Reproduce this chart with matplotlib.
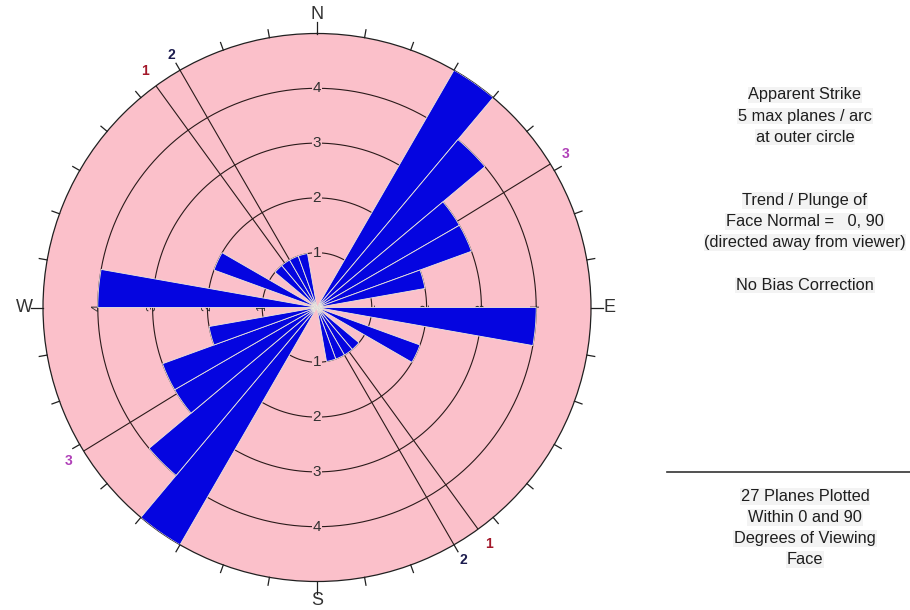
import numpy as np
import matplotlib
matplotlib.use("Agg")
import matplotlib.pyplot as plt
from matplotlib.lines import Line2D

plt.rcParams['font.family'] = ['Liberation Sans', 'DejaVu Sans']

# Apparent-strike rose: 10 degree bins over 0-180 (plotted bidirectionally)
bin_start_deg = [0, 10, 20, 30, 40, 50, 60, 70, 80, 90, 100, 110, 120, 130, 140, 150, 160, 170]
plane_counts = [0, 0, 0, 5, 4, 3, 3, 2, 0, 4, 0, 2, 0, 1, 1, 1, 1, 0]
bin_width_deg = 10
max_planes = 5

# Joint set traces drawn across the net
set_labels = ["1", "2", "3"]
set_trend_deg = [324, 330, 58.4]
set_colors = ["#a3182a", "#1c1c4e", "#b040b8"]

ring_values = [1, 2, 3, 4]
cardinal_labels = ["N", "E", "S", "W"]
cardinal_deg = [0, 90, 180, 270]

info_lines_top = ["Apparent Strike", "5 max planes / arc", "at outer circle"]
info_lines_mid = ["Trend / Plunge of", "Face Normal =   0, 90", "(directed away from viewer)"]
info_line_bias = "No Bias Correction"
info_lines_bottom = ["27 Planes Plotted", "Within 0 and 90", "Degrees of Viewing", "Face"]

W, H = 910, 610
fig = plt.figure(figsize=(W / 100, H / 100), dpi=100)
fig.patch.set_facecolor("white")

cx, cy, R = 317, 307.5, 274
ax = fig.add_axes([(cx - R) / W, (H - cy - R) / H, 2 * R / W, 2 * R / H], projection="polar")
ax.set_theta_zero_location("N")
ax.set_theta_direction(-1)
ax.set_ylim(0, max_planes)
ax.set_xticks([])
ax.set_yticks([])
ax.grid(False)
ax.set_facecolor("#fbc0ca")
ax.spines["polar"].set_color("#202020")
ax.spines["polar"].set_linewidth(0.9)

line_col = "#2a1a1a"
full = np.linspace(0, 2 * np.pi, 721)
for r in ring_values:
    ax.plot(full, np.full_like(full, r), color=line_col, lw=0.8, zorder=1)

# set traces (straight lines through the centre)
for lab, t, c in zip(set_labels, set_trend_deg, set_colors):
    for a in (t, t + 180):
        th = np.deg2rad(a)
        ax.plot([th, th], [0, max_planes], color=line_col, lw=0.8, zorder=1)
    th = np.deg2rad(t)
    ax.text(th, max_planes * 292 / R, lab, color=c, fontsize=10, fontweight="bold",
            ha="center", va="center", clip_on=False)
    ax.text(th + np.pi, max_planes * 292 / R, lab, color=c, fontsize=10, fontweight="bold",
            ha="center", va="center", clip_on=False)

# ring labels
for r in ring_values:
    for a in (0, 180):
        ax.text(np.deg2rad(a), r, str(r), fontsize=11, color="#303030", ha="center", va="center",
                zorder=2, bbox=dict(facecolor="#fbc0ca", edgecolor="none", pad=0.3))
    for a in (90, 270):
        ax.text(np.deg2rad(a), r, str(r), fontsize=9, color="#303030", ha="center", va="center",
                rotation=90, zorder=2)

# rose petals
starts = np.deg2rad(np.array(bin_start_deg, dtype=float))
counts = np.array(plane_counts, dtype=float)
for offset in (0.0, np.pi):
    ax.bar(starts + offset, counts, width=np.deg2rad(bin_width_deg), align="edge",
           color="#0505e0", edgecolor="#eeeadc", linewidth=0.6, zorder=3)

# outer tick marks every 10 degrees
unit = R / max_planes
for a in range(0, 360, 10):
    L = 12 if a in cardinal_deg else 8
    th = np.deg2rad(a)
    ax.plot([th, th], [max_planes, max_planes + L / unit], color="#202020", lw=0.9,
            clip_on=False, zorder=4)

for lab, a in zip(cardinal_labels, cardinal_deg):
    ax.text(np.deg2rad(a), max_planes * 293 / R, lab, fontsize=13, color="#333333",
            ha="center", va="center", clip_on=False)

# information panel
tx = 805 / W
def put(lines, y0, step=21):
    for i, s in enumerate(lines):
        fig.text(tx, 1 - (y0 + i * step) / H, s, fontsize=11.8, color="#1e1e1e",
                 ha="center", va="center",
                 bbox=dict(facecolor="#f3f3f3", edgecolor="none", pad=0.5))

put(info_lines_top, 95)
put(info_lines_mid, 200.5)
put([info_line_bias], 285)
put(info_lines_bottom, 496.5)

fig.add_artist(Line2D([667 / W, 1.0], [1 - 472 / H, 1 - 472 / H], color="#333333", lw=1.2))

fig.savefig("out.png", dpi=100)
